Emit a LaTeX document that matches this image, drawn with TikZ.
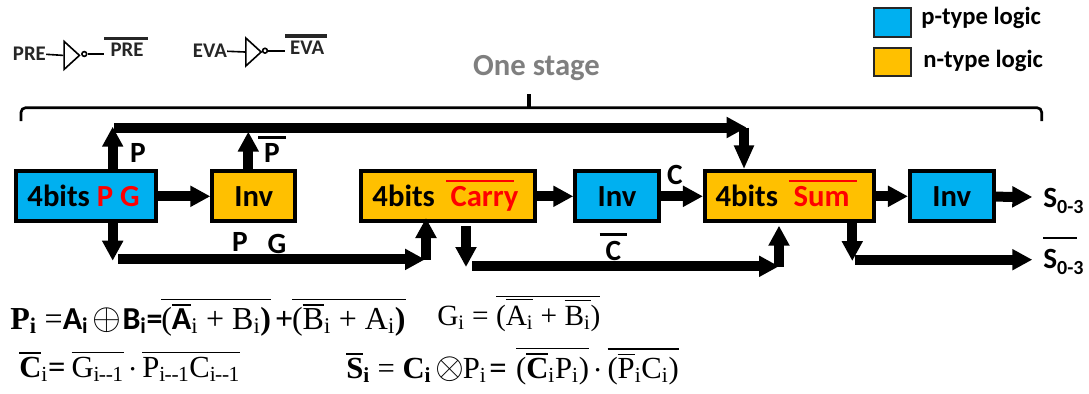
\documentclass[tikz,border=0pt]{standalone}
\usepackage{fontspec}
\setmainfont{Carlito}
\newfontfamily\eqfont{Liberation Serif}
\usepackage{xcolor}
\usetikzlibrary{matrix}
\usetikzlibrary{arrows.meta,shapes.geometric}
\definecolor{ptype}{HTML}{00B0F0}
\definecolor{ntype}{HTML}{FFC000}
\definecolor{stagegray}{HTML}{7F7F7F}
\newcommand{\barred}[3]{\leavevmode\vbox{\hrule height #1\kern #2\hbox{#3}}}
\newcommand{\inbar}[1]{\barred{1.4pt}{1.9pt}{#1}}
\newcommand{\outbar}[1]{\barred{.8pt}{3pt}{#1}}
\newcommand{\sbi}[1]{\textsubscript{#1}}
\newcommand{\sbm}{\sbi{i\kern-.6pt--\kern-.6pt 1}}
\newcommand{\sbo}{\raisebox{-5pt}{\fontsize{15}{18}\selectfont 0-3}}
\newcommand{\eqop}[1]{\scalebox{1.12}{$#1$}}
\tikzset{
  stagebox/.style={draw=black,line width=3pt,minimum height=37.5pt,text height=21pt,text depth=5pt,inner sep=0pt,anchor=center},
  bus/.style={line width=7.5pt,-{Triangle[length=15pt,width=15pt]}},
  boldlabel/.style={anchor=base,font=\fontsize{22}{26}\selectfont\bfseries,inner sep=0pt},
  wire/.style={line width=1.2pt},
  eqline/.style={anchor=base west,inner sep=0pt,font=\fontsize{24}{28}\selectfont\eqfont},
  legendbox/.style={draw=black!85,line width=1.2pt,minimum width=28pt,inner sep=0pt},
  legendtext/.style={anchor=base west,inner sep=0pt,font=\fontsize{18.5}{22}\selectfont\bfseries},
  invtri/.style={draw,wire,anchor=west,isosceles triangle,isosceles triangle stretches,minimum width=21pt,minimum height=11.5pt,inner sep=0pt},
  invbub/.style={draw,wire,circle,minimum size=3.6pt,inner sep=0pt},
  invtext/.style={anchor=base west,font=\fontsize{15.6}{18}\selectfont\bfseries,inner sep=0pt,text=black!85}
}
\begin{document}
\begin{tikzpicture}[x=0.75pt,y=-0.75pt]
            \useasboundingbox (0,0) rectangle (1089,393);
            \matrix (stage) at (13.8,196.3) [%
              matrix of nodes,
              anchor=west,
              inner sep=0pt,
              column sep=0pt,
              nodes={font=\fontsize{23}{27}\selectfont\bfseries},
              ampersand replacement=\&
            ]
                  {
              |[stagebox,fill=ptype,minimum width=105.2pt]| 4bits \textcolor{red}{P G}\kern4pt
              \&[39pt] |[stagebox,fill=ntype,minimum width=62.2pt]| Inv
              \&[46.5pt] |[stagebox,fill=ntype,minimum width=130.1pt]| 4bits\kern8.5pt\textcolor{red}{\barred{2pt}{3.5pt}{\kern3.3pt Carry\kern-3.7pt}}\kern7.5pt
              \&[27.4pt] |[stagebox,fill=ptype,minimum width=62.6pt]| Inv
              \&[31.65pt] |[stagebox,fill=ntype,minimum width=126.75pt]| 4bits\kern8pt\textcolor{red}{\barred{2pt}{3.5pt}{\kern3.75pt Sum\kern5.25pt}}\kern5pt
              \&[24pt] |[stagebox,fill=ptype,minimum width=62.8pt]| Inv \\
            };
            \coordinate (pgup) at (112.7,126.7);
            \coordinate (invup) at (248.3,131.7);
            \coordinate (pbarstart) at (114.3,127.5);
            \coordinate (pbarend) at (746.6,127.5);
            \coordinate (suminp) at (744,127.5);
            \coordinate (pgdown) at (112.7,260.7);
            \coordinate (gbarstart) at (118,259.4);
            \coordinate (gbarend) at (425,259.4);
            \coordinate (carryfoot) at (426,260);
            \coordinate (carryinp) at (426,218);
            \coordinate (carrystub) at (466,226);
            \coordinate (carrydown) at (466,267);
            \coordinate (cbarstart) at (472,266.3);
            \coordinate (cbarend) at (779,266.3);
            \coordinate (sumfoot) at (779,266.7);
            \coordinate (suminq) at (779,225.7);
            \coordinate (sumdown) at (852.3,261);
            \coordinate (sbarstart) at (855,259.7);
            \coordinate (souttip) at (1032.3,197);
            \coordinate (sbartip) at (1032.3,259.7);

            \draw[bus] (stage-1-1) -- (stage-1-2);
            \draw[bus] (stage-1-3) -- (stage-1-4);
            \draw[bus] (stage-1-4) -- (stage-1-5);
            \draw[bus] (stage-1-5) -- (stage-1-6);
            \draw[bus] (stage-1-6) -- (souttip);
            \draw[bus] (stage-1-1.north -| pgup) -- (pgup);
            \draw[bus] (stage-1-2.north -| invup) -- (invup);
            \draw[bus] (pbarstart) -- (pbarend);
            \draw[bus,-{Triangle[length=18pt,width=14pt]}] (suminp) -- (stage-1-5.north -| suminp);
            \draw[bus] (stage-1-1.south -| pgdown) -- (pgdown);
            \draw[bus] (gbarstart) -- (gbarend);
            \draw[bus] (carryfoot) -- (carryinp);
            \draw[bus] (carrystub) -- (carrydown);
            \draw[bus] (cbarstart) -- (cbarend);
            \draw[bus] (sumfoot) -- (suminq);
            \draw[bus] (stage-1-5.south -| sumdown) -- (sumdown);
            \draw[bus] (sbarstart) -- (sbartip);

            \node[boldlabel] (plabel) at (138,162.7) {P};
            \node[boldlabel] (pbarlabel) at (272,162.7) {\barred{2pt}{3.5pt}{\kern4.5pt P\kern4.5pt}};
            \node[boldlabel] (pbot) at (240,251.7) {P};
            \node[boldlabel] (gbot) at (277,253) {G};
            \node[boldlabel] (clabel) at (675,184) {C};
            \node[boldlabel] (cbarlabel) at (613.5,260) {\barred{2pt}{3.5pt}{\kern4.5pt C\kern4.5pt}};
            \node[boldlabel,anchor=base west] (sout) at (1043,207) {S\sbo};
            \node[boldlabel,anchor=base west] (sbarout) at (1043,268) {\barred{2pt}{7pt}{S\sbo\kern-5pt}};

            \node[boldlabel,font=\fontsize{23}{27}\selectfont\bfseries,text=stagegray] (onestage) at (536.5,75) {One stage};
            \coordinate (bracel) at (21,121);
            \coordinate (bracer) at (1041.7,121);
            \coordinate (bracemid) at (529,107.7);
            \coordinate (bracetip) at (529,94);
            \draw[line width=2pt,rounded corners=3.5pt] (bracel) -- (bracel |- bracemid) -- (bracer |- bracemid) -- (bracer);
            \draw[line width=2.6pt] (bracemid) -- (bracetip);

            \node[legendbox,fill=ptype,minimum height=22pt] (pkey) at (892.5,22.5) {};
            \node[legendbox,fill=ntype,minimum height=21.3pt] (nkey) at (892.5,62) {};
            \node[legendtext] (ptext) at (921,24) {p-type logic};
            \node[legendtext] (ntext) at (923,67.7) {n-type logic};

            \node[invtext] (pre) at (12.7,60) {PRE};
            \node[invtri] (pretri) at (63.3,55.4) {};
            \node[invbub] (prebub) at (84.3,54) {};
            \node[invtext] (prebar) at (104,56.7) {\barred{2.4pt}{2.2pt}{\kern4.8pt PRE\kern3pt}};
            \draw[wire] (pre) -- (pretri.west);
            \draw[wire] (prebub) -- (prebub -| prebar.west);

            \node[invtext] (eva) at (192.7,57.3) {EVA};
            \node[invtri] (evatri) at (245,52) {};
            \node[invbub] (evabub) at (265,50.7) {};
            \node[invtext] (evabar) at (285,54) {\barred{2.4pt}{2.2pt}{\kern3.7pt EVA\kern2.3pt}};
            \draw[wire] (eva) -- (evatri.west);
            \draw[wire] (evabub) -- (evabub -| evabar.west);

            \node[eqline] (eqp) at (10,329) {\textbf{P}\sbi{\textbf{i}} =\textbf{\rmfamily A\sbi{i}}\kern3pt\eqop{\oplus}\kern1pt\textbf{\rmfamily B\sbi{i}=}\kern-1pt\outbar{(\inbar{\textbf{\rmfamily A}}\sbi{i} + B\sbi{i}\textbf{)}}\kern3pt\textbf{+}\kern-1pt\outbar{(\inbar{B}\sbi{i} + A\sbi{i}\textbf{)}}};
            \node[eqline,font=\fontsize{22}{26}\selectfont\eqfont] (eqg) at (437,325) {G\sbi{i} = \barred{.7pt}{2pt}{(\barred{.7pt}{4pt}{A\sbi{i}} + \barred{.7pt}{4pt}{B\sbi{i}})}};
            \node[eqline,font=\fontsize{23}{27}\selectfont\eqfont] (eqc) at (19,377) {\inbar{\textbf{C}}\sbi{i}\textbf{=}\kern4.5pt\barred{.7pt}{3pt}{G\sbm}\kern3.5pt$\cdot$\kern3.5pt\barred{.7pt}{3pt}{P\sbm C\sbm}};
            \node[eqline,font=\fontsize{23}{27}\selectfont\eqfont] (eqs) at (346,378) {\inbar{\textbf{S}}\sbi{\textbf{i}} = \textbf{C\sbi{i}}\kern3pt\eqop{\otimes}\kern-1pt P\sbi{i}\kern2pt\textbf{=}\kern7pt\outbar{(\inbar{\textbf{C}}\sbi{i}P\sbi{i})}\kern3.5pt$\cdot$\kern3.5pt\barred{1.2pt}{3pt}{(\inbar{P}\sbi{i}C\sbi{i})}};
        \end{tikzpicture}
\end{document}
